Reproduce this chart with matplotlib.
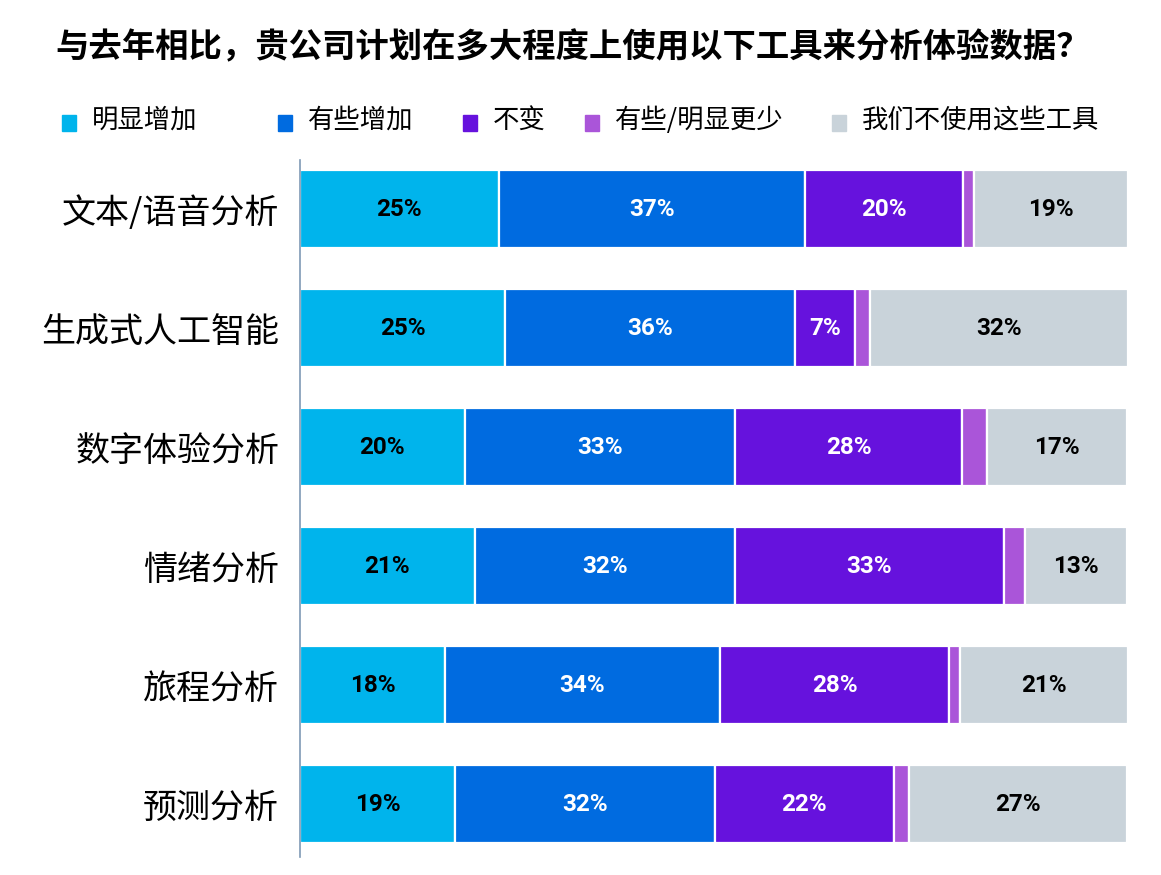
import matplotlib.pyplot as plt
from matplotlib.patches import Rectangle

plt.rcParams['font.family'] = ['Noto Sans CJK SC', 'DejaVu Sans']

# data (share of respondents, %)
tools = ["文本/语音分析", "生成式人工智能", "数字体验分析", "情绪分析", "旅程分析", "预测分析"]
series = ["明显增加", "有些增加", "不变", "有些/明显更少", "我们不使用这些工具"]
much_more = [24.0, 24.8, 19.9, 21.1, 17.5, 18.7]
some_more = [37.0, 35.0, 32.6, 31.4, 33.2, 31.4]
no_change = [19.1, 7.2, 27.5, 32.5, 27.7, 21.6]
less = [1.3, 1.8, 3.0, 2.5, 1.3, 1.8]
not_used = [18.6, 31.2, 16.9, 12.4, 20.3, 26.4]
# printed labels
lbl_much_more = [25, 25, 20, 21, 18, 19]
lbl_some_more = [37, 36, 33, 32, 34, 32]
lbl_no_change = [20, 7, 28, 33, 28, 22]
lbl_not_used = [19, 32, 17, 13, 21, 27]

colors = ["#00B4EC", "#006BE0", "#6612DD", "#AA55D9", "#C9D3DA"]
text_colors = ["black", "white", "white", None, "black"]

values = [much_more, some_more, no_change, less, not_used]
labels = [lbl_much_more, lbl_some_more, lbl_no_change, None, lbl_not_used]

fig = plt.figure(figsize=(11.61, 8.75), dpi=100)
ax = fig.add_axes([300 / 1161, 1 - 857 / 875, 828 / 1161, 697 / 875])

y = list(range(len(tools)))
left = [0.0] * len(tools)
for vals, col, lab, tc in zip(values, colors, labels, text_colors):
    bars = ax.barh(y, vals, left=left, height=0.65, color=col,
                   edgecolor="white", linewidth=1.6)
    if lab is not None:
        for i, b in enumerate(bars):
            ax.text(left[i] + vals[i] / 2, i, f"{lab[i]}%", ha="center", va="center",
                    color=tc, fontsize=17.5, fontweight="bold",
                    family=["Roboto", "DejaVu Sans"])
    left = [l + v for l, v in zip(left, vals)]

ax.set_xlim(0, sum(v[0] for v in values))
ax.set_ylim(5.445, -0.412)
ax.set_yticks(y)
ax.set_yticklabels(tools, fontsize=24.5)
ax.tick_params(axis="y", length=0, pad=15)
ax.set_xticks([])
for s in ["top", "right", "bottom"]:
    ax.spines[s].set_visible(False)
ax.spines["left"].set_color("#7F9AB5")
ax.spines["left"].set_linewidth(1.2)

fig.text(55 / 1161, 1 - 48 / 875, "与去年相比，贵公司计划在多大程度上使用以下工具来分析体验数据？",
         fontsize=24, fontweight="heavy", va="center", ha="left")

# legend laid out across the top
leg_x = [62, 278, 463, 585, 832]
for xp, name, col in zip(leg_x, series, colors):
    fig.add_artist(Rectangle((xp / 1161, 1 - 131 / 875), 14 / 1161, 16 / 875,
                             transform=fig.transFigure, color=col))
    fig.text((xp + 30) / 1161, 1 - 120 / 875, name, fontsize=19, va="center", ha="left")

fig.savefig("out.png", dpi=100)
